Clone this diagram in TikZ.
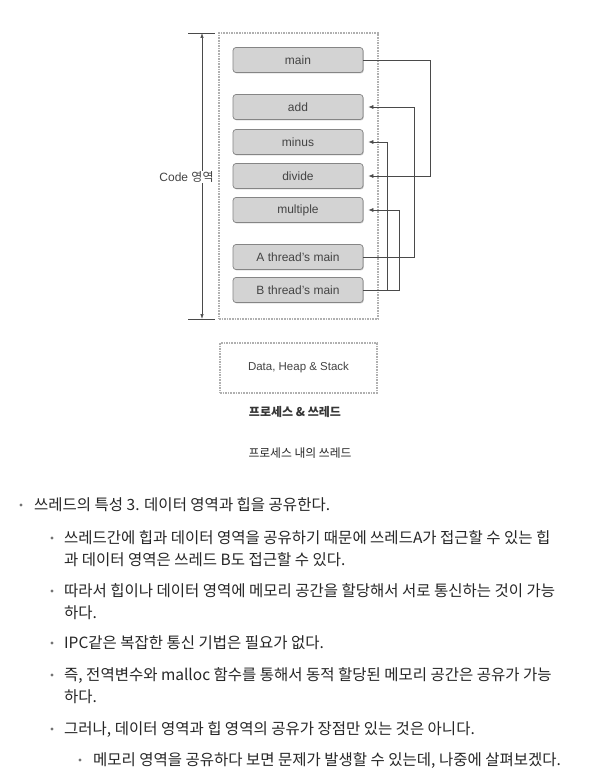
\documentclass[tikz,border=0pt]{standalone}
\usepackage{fontspec}
\setmainfont{Liberation Sans}
\newfontfamily\kr{Noto Sans CJK KR}
\usetikzlibrary{arrows.meta,shadows}
\definecolor{boxfill}{HTML}{D3D3D3}
\definecolor{boxline}{HTML}{858585}
\definecolor{boxtext}{HTML}{444444}
\definecolor{conncol}{HTML}{4A4A4A}
\definecolor{bodytext}{HTML}{262626}
\definecolor{arealine}{HTML}{B0B0B0}
\tikzset{
  fnbox/.style={draw=boxline, fill=boxfill, rounded corners=3pt, line width=0.7pt,
    minimum width=130pt, minimum height=25pt, inner sep=0pt, text=boxtext,
    font=\fontsize{12}{14}\selectfont,
    drop shadow={shadow xshift=0.8pt, shadow yshift=-0.9pt, fill=black!35, opacity=0.6}},
  area/.style={draw=arealine, densely dotted, line width=1.6pt, inner sep=0pt},
  conn/.style={draw=conncol, line width=0.7pt, -{Latex[length=5pt,width=4pt]}},
  dimline/.style={draw=conncol, line width=0.7pt, {Latex[length=5pt,width=3.5pt]}-{Latex[length=5pt,width=3.5pt]}},
  tick/.style={draw=conncol, line width=0.6pt},
  body/.style={anchor=base west, inner sep=0pt, text=bodytext, font=\kr\fontsize{15.5}{18}\selectfont},
  bul/.style={fill=black!55},
}
\begin{document}
\begin{tikzpicture}[x=1pt,y=-1pt]
\useasboundingbox[fill=white] (0,0) rectangle (600,784);
% areas
\node[area, minimum width=159pt, minimum height=286pt] (code) at (298.5,176) {};
\node[area, minimum width=157pt, minimum height=50pt, text=boxtext, font=\fontsize{11.5}{13}\selectfont] (data) at (298.5,368) {Data, Heap \& Stack};
% function boxes
\node[fnbox] (main) at (298,60) {main};
\node[fnbox] (add) at (298,107) {add};
\node[fnbox] (minus) at (298,142) {minus};
\node[fnbox] (divide) at (298,176) {divide};
\node[fnbox] (multiple) at (298,210) {multiple};
\node[fnbox] (athread) at (298,257) {A thread's main};
\node[fnbox] (bthread) at (298,290) {B thread's main};
% connectors
\draw[conn] (main.east) -- ++(67,0) |- ([xshift=5pt]divide.east);
\draw[conn] (athread.east) -- ++(51,0) |- ([xshift=5pt]add.east);
\draw[conn] (bthread.east) -- ++(24,0) |- ([xshift=5pt]minus.east);
\draw[conn] (bthread.east) -- ++(36,0) |- ([xshift=5pt]multiple.east);
% dimension
\coordinate (dtop) at (202,33);
\coordinate (dbot) at (202,319);
\draw[tick] ([xshift=-14pt]dtop) -- ([xshift=13pt]dtop);
\draw[tick] ([xshift=-14pt]dbot) -- ([xshift=13pt]dbot);
\draw[dimline] (dtop) -- (dbot);
\node[fill=white, inner sep=1pt, text=boxtext, font=\fontsize{12}{14}\selectfont] (codelbl) at (186.5,177) {Code {\kr 영역}};
% captions
\node[text=boxtext!80!black, font=\kr\bfseries\fontsize{12}{14}\selectfont, inner sep=0pt] (cap1) at (295,412) {프로세스 \& 쓰레드};
\node[text=bodytext, font=\kr\fontsize{11.8}{14}\selectfont, inner sep=0pt] (cap2) at (300,453) {프로세스 내의 쓰레드};
% body text
\fill[bul] (21,505) circle[radius=1.7pt];
\node[body] (t1) at (34,510.9) {쓰레드의 특성 3. 데이터 영역과 힙을 공유한다.};
\fill[bul] (52,538) circle[radius=1.7pt];
\node[body] (t2) at (64,543.9) {쓰레드간에 힙과 데이터 영역을 공유하기 때문에 쓰레드A가 접근할 수 있는 힙};
\node[body] (t3) at (64,565.9) {과 데이터 영역은 쓰레드 B도 접근할 수 있다.};
\fill[bul] (52,591) circle[radius=1.7pt];
\node[body] (t4) at (64,596.9) {따라서 힙이나 데이터 영역에 메모리 공간을 할당해서 서로 통신하는 것이 가능};
\node[body] (t5) at (64,618.9) {하다.};
\fill[bul] (52,643) circle[radius=1.7pt];
\node[body] (t6) at (64,648.9) {IPC같은 복잡한 통신 기법은 필요가 없다.};
\fill[bul] (52,675) circle[radius=1.7pt];
\node[body] (t7) at (64,680.9) {즉, 전역변수와 malloc 함수를 통해서 동적 할당된 메모리 공간은 공유가 가능};
\node[body] (t8) at (64,702.9) {하다.};
\fill[bul] (52,729) circle[radius=1.7pt];
\node[body] (t9) at (64,734.9) {그러나, 데이터 영역과 힙 영역의 공유가 장점만 있는 것은 아니다.};
\fill[bul] (80,760) circle[radius=1.7pt];
\node[body] (t10) at (93,765.9) {메모리 영역을 공유하다 보면 문제가 발생할 수 있는데, 나중에 살펴보겠다.};
\end{tikzpicture}
\end{document}
